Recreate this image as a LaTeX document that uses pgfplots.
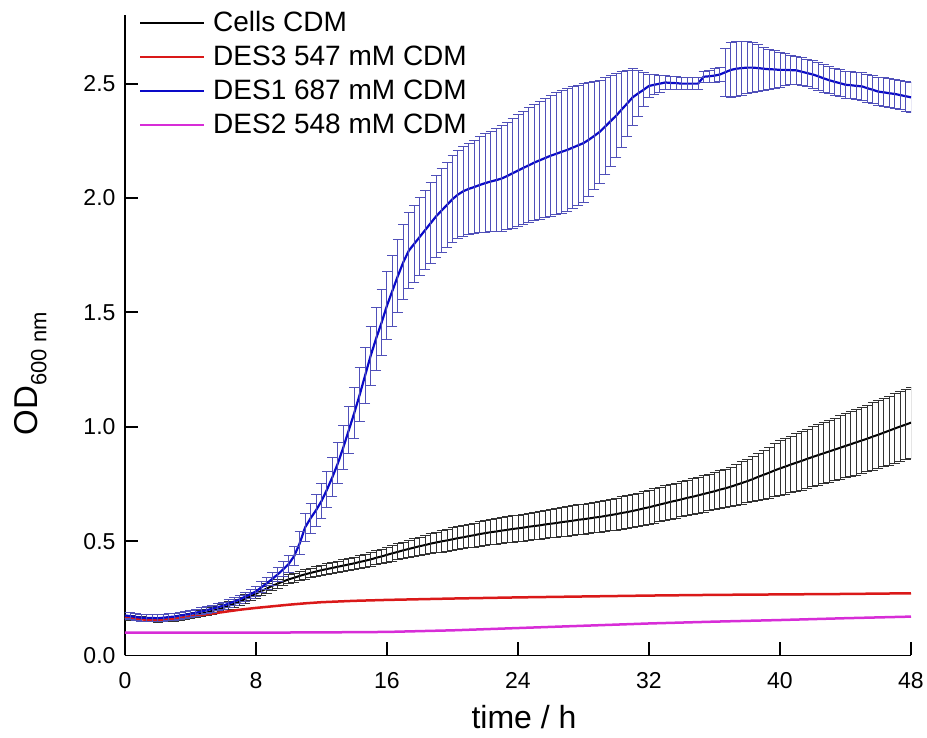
\documentclass[border=0pt]{standalone}
\usepackage{pgfplots}
\pgfplotsset{compat=1.18}
\usepackage{pgfplotstable}
\usepackage{fontspec}
\setmainfont{Liberation Sans}
\definecolor{cblue}{RGB}{10,10,200}
\definecolor{cblueerr}{RGB}{80,80,185}
\definecolor{cred}{RGB}{218,25,25}
\definecolor{cmag}{RGB}{215,45,215}
\definecolor{cblackerr}{RGB}{50,50,50}

\pgfplotstableread{
t by be uy ue
0 0.165 0.010 0.175 0.015
0.333 0.163 0.010 0.172 0.015
0.667 0.162 0.010 0.168 0.015
1 0.160 0.010 0.165 0.015
1.333 0.158 0.010 0.164 0.015
1.667 0.157 0.010 0.164 0.015
2 0.155 0.010 0.163 0.015
2.333 0.157 0.010 0.165 0.015
2.667 0.158 0.010 0.168 0.015
3 0.160 0.010 0.170 0.015
3.333 0.164 0.011 0.174 0.015
3.667 0.168 0.011 0.178 0.015
4 0.172 0.012 0.182 0.015
4.333 0.177 0.013 0.187 0.015
4.667 0.183 0.013 0.193 0.015
5 0.188 0.014 0.198 0.015
5.333 0.195 0.015 0.205 0.015
5.667 0.201 0.015 0.211 0.015
6 0.208 0.016 0.218 0.015
6.333 0.217 0.017 0.227 0.016
6.667 0.226 0.017 0.236 0.017
7 0.235 0.018 0.245 0.018
7.333 0.247 0.019 0.257 0.019
7.667 0.258 0.019 0.268 0.021
8 0.270 0.020 0.280 0.022
8.333 0.282 0.020 0.298 0.024
8.667 0.293 0.020 0.316 0.026
9 0.305 0.020 0.335 0.028
9.333 0.314 0.020 0.355 0.030
9.667 0.324 0.020 0.377 0.033
10 0.333 0.020 0.400 0.035
10.333 0.340 0.020 0.435 0.042
10.667 0.348 0.021 0.490 0.050
11 0.355 0.021 0.560 0.060
11.333 0.361 0.021 0.600 0.065
11.667 0.367 0.022 0.635 0.070
12 0.373 0.022 0.675 0.075
12.333 0.378 0.023 0.725 0.080
12.667 0.383 0.023 0.780 0.085
13 0.388 0.024 0.840 0.090
13.333 0.393 0.025 0.910 0.097
13.667 0.398 0.026 0.985 0.103
14 0.403 0.027 1.060 0.110
14.333 0.409 0.028 1.140 0.117
14.667 0.414 0.029 1.225 0.123
15 0.420 0.030 1.310 0.130
15.333 0.427 0.031 1.385 0.137
15.667 0.433 0.032 1.455 0.143
16 0.440 0.033 1.530 0.150
16.333 0.447 0.034 1.595 0.155
16.667 0.453 0.035 1.660 0.160
17 0.460 0.036 1.720 0.165
17.333 0.466 0.037 1.770 0.167
17.667 0.472 0.039 1.800 0.168
18 0.478 0.040 1.830 0.170
18.333 0.483 0.042 1.860 0.173
18.667 0.489 0.043 1.890 0.177
19 0.494 0.045 1.920 0.180
19.333 0.499 0.047 1.945 0.183
19.667 0.503 0.048 1.970 0.187
20 0.508 0.050 1.995 0.190
20.333 0.513 0.051 2.015 0.193
20.667 0.517 0.051 2.030 0.197
21 0.522 0.052 2.040 0.200
21.333 0.526 0.053 2.048 0.205
21.667 0.531 0.053 2.057 0.210
22 0.535 0.054 2.065 0.215
22.333 0.539 0.055 2.072 0.220
22.667 0.542 0.055 2.078 0.225
23 0.546 0.056 2.085 0.230
23.333 0.549 0.057 2.096 0.235
23.667 0.553 0.057 2.108 0.240
24 0.556 0.058 2.120 0.245
24.333 0.559 0.059 2.132 0.248
24.667 0.563 0.059 2.143 0.252
25 0.566 0.060 2.155 0.255
25.333 0.569 0.061 2.165 0.258
25.667 0.573 0.061 2.175 0.262
26 0.576 0.062 2.185 0.265
26.333 0.579 0.063 2.193 0.267
26.667 0.583 0.063 2.202 0.268
27 0.586 0.064 2.210 0.270
27.333 0.589 0.065 2.220 0.267
27.667 0.593 0.065 2.230 0.263
28 0.596 0.066 2.240 0.260
28.333 0.599 0.067 2.255 0.248
28.667 0.603 0.067 2.272 0.237
29 0.606 0.068 2.290 0.225
29.333 0.610 0.069 2.313 0.212
29.667 0.614 0.069 2.337 0.198
30 0.618 0.070 2.360 0.185
30.333 0.623 0.071 2.387 0.165
30.667 0.627 0.071 2.413 0.145
31 0.632 0.072 2.440 0.125
31.333 0.637 0.073 2.457 0.100
31.667 0.643 0.074 2.473 0.075
32 0.648 0.075 2.490 0.050
32.333 0.654 0.075 2.495 0.043
32.667 0.660 0.076 2.500 0.037
33 0.666 0.076 2.505 0.030
33.333 0.672 0.076 2.503 0.028
33.667 0.677 0.077 2.502 0.027
34 0.683 0.077 2.500 0.025
34.333 0.689 0.077 2.500 0.025
34.667 0.694 0.078 2.500 0.025
35 0.700 0.078 2.500 0.025
35.333 0.706 0.079 2.530 0.025
35.667 0.712 0.079 2.532 0.025
36 0.718 0.080 2.535 0.030
36.333 0.725 0.082 2.540 0.030
36.667 0.731 0.084 2.550 0.105
37 0.738 0.086 2.560 0.120
37.333 0.746 0.089 2.565 0.120
37.667 0.754 0.092 2.568 0.118
38 0.762 0.095 2.570 0.115
38.333 0.771 0.099 2.570 0.108
38.667 0.781 0.104 2.568 0.102
39 0.790 0.108 2.565 0.095
39.333 0.799 0.112 2.563 0.088
39.667 0.809 0.116 2.562 0.082
40 0.818 0.120 2.560 0.075
40.333 0.826 0.122 2.560 0.070
40.667 0.835 0.124 2.559 0.065
41 0.843 0.126 2.558 0.060
41.333 0.851 0.128 2.552 0.060
41.667 0.860 0.129 2.546 0.060
42 0.868 0.131 2.540 0.060
42.333 0.876 0.133 2.532 0.060
42.667 0.884 0.134 2.523 0.060
43 0.892 0.136 2.515 0.060
43.333 0.900 0.137 2.508 0.060
43.667 0.908 0.139 2.502 0.060
44 0.916 0.140 2.495 0.060
44.333 0.924 0.141 2.493 0.060
44.667 0.932 0.143 2.490 0.060
45 0.940 0.144 2.488 0.060
45.333 0.948 0.145 2.480 0.061
45.667 0.957 0.147 2.473 0.061
46 0.965 0.148 2.465 0.062
46.333 0.974 0.149 2.462 0.063
46.667 0.983 0.151 2.458 0.064
47 0.992 0.152 2.455 0.065
47.333 1.001 0.153 2.450 0.065
47.667 1.009 0.154 2.445 0.065
48 1.018 0.155 2.440 0.065
}\growth

\pgfplotstableread{
t y
0 0.165
1 0.158
2 0.153
3 0.160
4 0.170
5 0.180
6 0.190
7 0.200
8 0.208
9 0.215
10 0.222
11 0.228
12 0.233
14 0.239
16 0.243
18 0.246
20 0.249
24 0.254
28 0.258
32 0.262
36 0.265
40 0.267
44 0.269
48 0.272
}\desthree

\pgfplotstableread{
t y
0 0.100
4 0.100
8 0.100
12 0.101
16 0.103
20 0.110
24 0.120
28 0.130
32 0.140
36 0.148
40 0.155
44 0.163
48 0.170
}\destwo

\begin{document}
\begin{tikzpicture}
\useasboundingbox (-125pt,-82.5pt) rectangle (802pt,655.5pt);
\begin{axis}[
  scale only axis,
  width=786pt, height=640.5pt,
  xmin=0, xmax=48, ymin=0, ymax=2.8,
  axis x line=bottom, axis y line=left,
  axis line style={-, line width=1.8pt},
  xtick={0,8,16,24,32,40,48},
  ytick={0,0.5,1,1.5,2,2.5},
  minor tick num=0,
  tick align=inside,
  major tick length=13pt,
  tick style={line width=1.8pt, black},
  /pgf/number format/assume math mode=true,
  /pgf/number format/.cd, fixed, fixed zerofill, precision=1, /pgfplots/.cd,
  xticklabel={\pgfmathprintnumber[fixed, precision=0]{\tick}},
  ticklabel style={font=\fontsize{23}{27}\selectfont},
  xticklabel style={yshift=-13pt},
  yticklabel style={xshift=-6pt},
  xlabel={time / h},
  ylabel={OD\raisebox{-0.28em}{\fontsize{22}{26}\selectfont 600 nm}},
  xlabel style={font=\fontsize{32}{36}\selectfont, yshift=-10pt, xshift=6pt},
  ylabel style={font=\fontsize{33}{38}\selectfont, at={(ticklabel cs:0.44)}, yshift=30pt},
  legend style={at={(axis description cs:0,1)}, anchor=north west,
    xshift=14pt, yshift=6pt,
    draw=none, fill=none, inner sep=0pt, row sep=6pt,
    font=\fontsize{28}{32}\selectfont,
    nodes={inner sep=2pt, anchor=west, text height=20pt, text depth=4pt},
    /tikz/every odd column/.append style={column sep=6pt}},
  legend cell align=left,
  legend image code/.code={\draw[#1, line width=2pt] (0pt,0pt) -- (64pt,0pt);},
]
\addplot[black, line width=2pt, error bars/.cd, y dir=both, y explicit,
  error bar style={line width=1pt, cblackerr},
  error mark options={rotate=90, mark size=5pt, line width=1pt, cblackerr}]
  table[x=t, y=by, y error=be] {\growth};
\addlegendentry{Cells CDM}
\addplot[cred, line width=2.5pt] table[x=t, y=y] {\desthree};
\addlegendentry{DES3 547 mM CDM}
\addplot[cblue, line width=2.2pt, error bars/.cd, y dir=both, y explicit,
  error bar style={line width=1pt, cblueerr},
  error mark options={rotate=90, mark size=5pt, line width=1pt, cblueerr}]
  table[x=t, y=uy, y error=ue] {\growth};
\addlegendentry{DES1 687 mM CDM}
\addplot[cmag, line width=2.5pt] table[x=t, y=y] {\destwo};
\addlegendentry{DES2 548 mM CDM}
\end{axis}
\end{tikzpicture}
\end{document}
